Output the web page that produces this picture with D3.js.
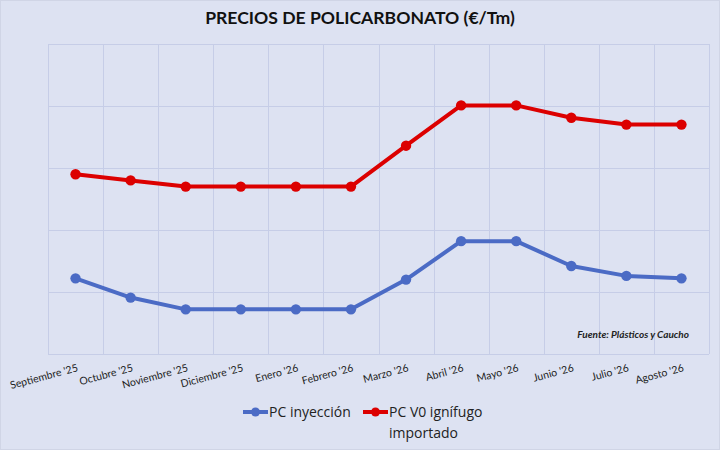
<!DOCTYPE html>
<html><head><meta charset="utf-8">
<script src="https://cdn.jsdelivr.net/npm/d3@7"></script>
<style>
html,body{margin:0;padding:0;background:#dde2f2;}
svg{display:block;}
</style></head>
<body>
<svg id="chart" width="720" height="450"></svg>
<script>
const categories = ["Septiembre '25","Octubre '25","Noviembre '25","Diciembre '25","Enero '26","Febrero '26","Marzo '26","Abril '26","Mayo '26","Junio '26","Julio '26","Agosto '26"];
const pcInyeccion = [2610, 2455, 2360, 2360, 2360, 2360, 2600, 2910, 2910, 2710, 2630, 2610];
const pcV0 = [3450, 3400, 3350, 3350, 3350, 3350, 3680, 4005, 4005, 3905, 3850, 3850];
const yTicks = [2000, 2500, 3000, 3500, 4000, 4500];
const seriesNames = ["PC inyección", "PC V0 ignífugo importado"];
const seriesColors = ["#4b6bc5", "#dc0000"];

const svg = d3.select("#chart");
const W = 720, H = 450;
const m = {left: 48, right: 11, top: 44, bottom: 96};

svg.append("rect").attr("x",0.5).attr("y",0.5).attr("width",W-1).attr("height",H-1)
  .attr("fill","#dde2f2").attr("stroke","#d0d5e6");

const x = d3.scaleBand().domain(categories).range([m.left, W - m.right]).padding(0);
const y = d3.scaleLinear().domain([2000, 4500]).range([H - m.bottom, m.top]);

const grid = svg.append("g");
grid.selectAll("line.h").data(yTicks).join("line").attr("class","h")
  .attr("x1", m.left).attr("x2", W - m.right)
  .attr("y1", d => Math.round(y(d)) + 0.5).attr("y2", d => Math.round(y(d)) + 0.5)
  .attr("stroke", "#c6cde7").attr("stroke-width", 1);
const edges = categories.map(c => x(c)).concat([x(categories[categories.length-1]) + x.bandwidth()]);
grid.selectAll("line.v").data(edges).join("line").attr("class","v")
  .attr("y1", m.top).attr("y2", H - m.bottom)
  .attr("x1", d => Math.round(d) + 0.5).attr("x2", d => Math.round(d) + 0.5)
  .attr("stroke", "#c6cde7").attr("stroke-width", 1);

const xAxis = d3.axisBottom(x).tickSize(0).tickPadding(0);
const gx = svg.append("g").attr("transform", `translate(0,${H - m.bottom})`).call(xAxis);
gx.select(".domain").remove();
gx.selectAll("text")
  .attr("font-family", "Lato, 'Open Sans', sans-serif")
  .attr("font-size", 10.5)
  .attr("fill", "#222")
  .attr("text-anchor", "end")
  .attr("dy", 0)
  .attr("transform", "translate(3,17) rotate(-15)");

const line = d3.line().x((d,i) => x(categories[i]) + x.bandwidth()/2).y(d => y(d));
const allSeries = [pcInyeccion, pcV0];
allSeries.forEach((s, k) => {
  svg.append("path").datum(s).attr("d", line)
    .attr("fill","none").attr("stroke", seriesColors[k]).attr("stroke-width", 4)
    .attr("stroke-linejoin","round");
  svg.append("g").selectAll("circle").data(s).join("circle")
    .attr("cx", (d,i) => x(categories[i]) + x.bandwidth()/2)
    .attr("cy", d => y(d)).attr("r", 5.2).attr("fill", seriesColors[k]);
});

svg.append("text").attr("x", 360).attr("y", 24).attr("text-anchor","middle")
  .attr("font-family","Lato, 'Open Sans', sans-serif").attr("font-weight","bold")
  .attr("font-size", 17.6).attr("fill","#111").text("PRECIOS DE POLICARBONATO (€/Tm)");

svg.append("text").attr("x", 689).attr("y", 338).attr("text-anchor","end")
  .attr("font-family","Lato, 'Open Sans', sans-serif").attr("font-weight","bold").attr("font-style","italic")
  .attr("font-size", 10).attr("fill","#222").text("Fuente: Plásticos y Caucho");

const lg = svg.append("g").attr("font-family","'Open Sans', Lato, sans-serif").attr("font-size", 14).attr("fill","#222");
const legendX = [243, 363];
seriesNames.forEach((name, k) => {
  const gx0 = legendX[k];
  lg.append("line").attr("x1", gx0).attr("x2", gx0 + 25).attr("y1", 412).attr("y2", 412)
    .attr("stroke", seriesColors[k]).attr("stroke-width", 4);
  lg.append("circle").attr("cx", gx0 + 12.5).attr("cy", 412).attr("r", 4.5).attr("fill", seriesColors[k]);
  const t = lg.append("text").attr("x", gx0 + 26).attr("y", 417);
  if (k === 1) {
    t.append("tspan").attr("x", gx0 + 26).attr("y", 417).text("PC V0 ignífugo");
    t.append("tspan").attr("x", gx0 + 26).attr("y", 438).text("importado");
  } else {
    t.text(name);
  }
});
</script>
</body></html>
